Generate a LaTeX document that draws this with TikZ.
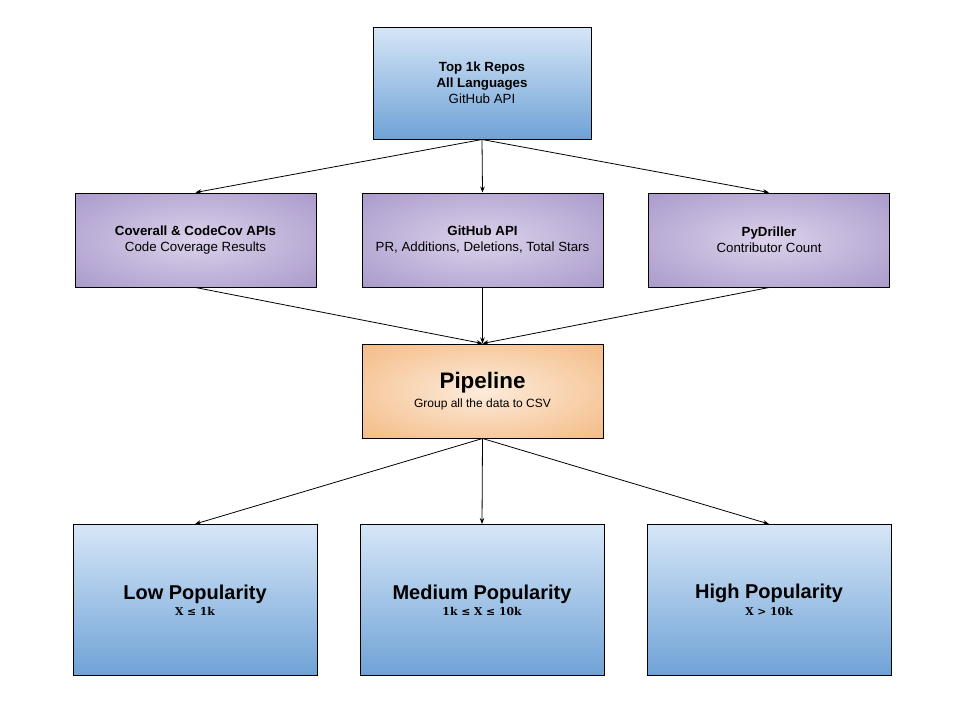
\documentclass[tikz,border=0pt]{standalone}
\usepackage{fontspec}
\setmainfont{Liberation Sans}
\newfontfamily\rangefont{DejaVu Serif}
\usetikzlibrary{arrows.meta,positioning}

\definecolor{bluetop}{HTML}{D6E6F7}
\definecolor{bluebot}{HTML}{6FA2D6}
\definecolor{purpin}{HTML}{DCD2EA}
\definecolor{purpout}{HTML}{9583BF}
\definecolor{orangein}{HTML}{FDEBDB}
\definecolor{orangeout}{HTML}{F0A862}

\pgfdeclareradialshading{purpglow}{\pgfpoint{0bp}{0bp}}{color(0bp)=(purpin); color(50bp)=(purpout)}
\pgfdeclareradialshading{orangeglow}{\pgfpoint{0bp}{0bp}}{color(0bp)=(orangein); color(50bp)=(orangeout)}

\tikzset{
  bluebox/.style={draw, line width=1pt, top color=bluetop, bottom color=bluebot, align=center},
  sourcebox/.style={draw, line width=1pt, shading=purpglow, align=center,
    minimum width=241pt, minimum height=94pt, font=\fontsize{13.3}{16}\selectfont},
  pipebox/.style={draw, line width=1pt, shading=orangeglow, align=center,
    minimum width=241pt, minimum height=94pt},
  tierbox/.style={bluebox, minimum width=244pt, minimum height=151pt},
  flow/.style={-{Stealth[length=6pt,width=4.5pt]}, line width=0.8pt}
}

\begin{document}
\begin{tikzpicture}[x=1pt,y=-1pt]
  \useasboundingbox (0,0) rectangle (960,720);
  \node[bluebox, minimum width=218pt, minimum height=112pt, font=\fontsize{13.3}{16}\selectfont] (repos) at (482,83)
    {\textbf{Top 1k Repos}\\ \textbf{All Languages}\\ GitHub API};

  \node[sourcebox] (coverage) at (195.5,240) {\textbf{Coverall \& CodeCov APIs}\\ Code Coverage Results};
  \node[sourcebox] (ghapi) at (482.5,240) {\textbf{GitHub API}\\ PR, Additions, Deletions, Total Stars};
  \node[sourcebox] (pydriller) at (769,240) {\textbf{PyDriller}\\ Contributor Count};

  \node[pipebox] (pipeline) at (482.5,391)
    {{\fontsize{22.4}{22}\selectfont\bfseries Pipeline}\\[4pt] {\fontsize{12}{13}\selectfont Group all the data to CSV}};

  \node[tierbox] (low) at (195,600)
    {{\fontsize{20}{20}\selectfont\bfseries Low Popularity}\\[3pt] {\fontsize{10.8}{12}\rangefont\bfseries X ≤ 1k}};
  \node[tierbox] (medium) at (482,600)
    {{\fontsize{20}{20}\selectfont\bfseries Medium Popularity}\\[3pt] {\fontsize{10.8}{12}\rangefont\bfseries 1k ≤ X ≤ 10k}};
  \node[tierbox] (high) at (769,600)
    {{\fontsize{20}{20}\selectfont\bfseries High Popularity}\\[3pt] {\fontsize{10.8}{12}\rangefont\bfseries X > 10k}};

  \draw[flow] (repos.south) -- (coverage.north);
  \draw[flow] (repos.south) -- (ghapi.north);
  \draw[flow] (repos.south) -- (pydriller.north);

  \draw[flow] (coverage.south) -- (pipeline.north);
  \draw[flow] (ghapi.south) -- (pipeline.north);
  \draw[flow] (pydriller.south) -- (pipeline.north);

  \draw[flow] (pipeline.south) -- (low.north);
  \draw[flow] (pipeline.south) -- (medium.north);
  \draw[flow] (pipeline.south) -- (high.north);
\end{tikzpicture}
\end{document}
